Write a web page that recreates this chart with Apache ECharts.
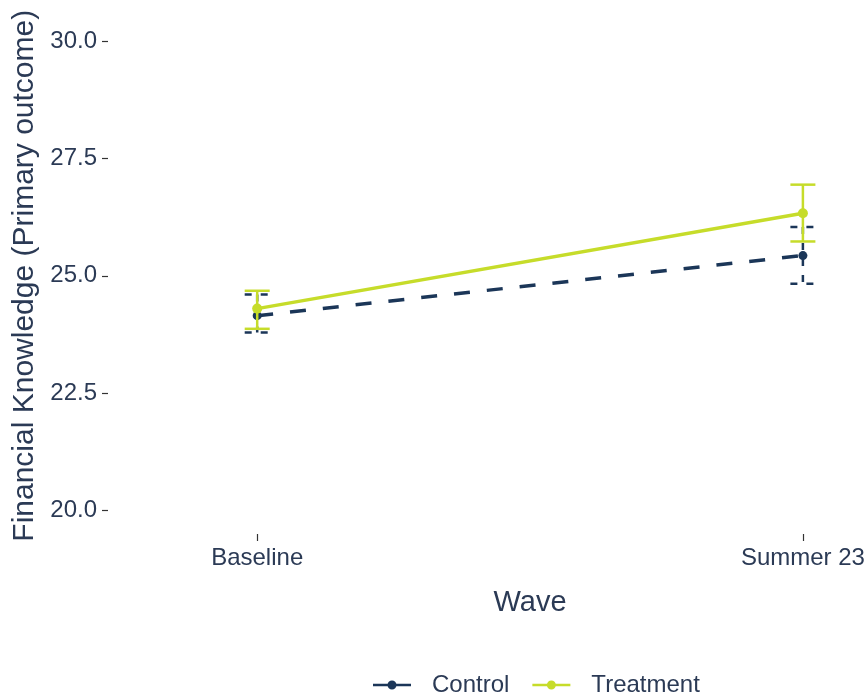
<!DOCTYPE html>
<html>
<head>
<meta charset="utf-8">
<script src="https://cdn.jsdelivr.net/npm/echarts@6/dist/echarts.min.js"></script>
<style>
  html, body { margin: 0; padding: 0; background: #ffffff; }
  #chart { width: 868px; height: 698px; }
</style>
</head>
<body>
<div id="chart"></div>
<script>
// Survey waves on the x axis
const waves = ['Baseline', 'Summer 23'];

// Group means with 95% confidence limits
const controlMean = [24.15, 25.43];
const controlLow = [23.79, 24.83];
const controlHigh = [24.60, 26.04];

const treatmentMean = [24.30, 26.33];
const treatmentLow = [23.87, 25.73];
const treatmentHigh = [24.68, 26.94];

const yTicks = [20.0, 22.5, 25.0, 27.5, 30.0];

const CONTROL_COLOR = '#1b3658';
const TREATMENT_COLOR = '#c6dc2a';
const TEXT_COLOR = '#2b3a55';
const TICK_COLOR = '#333333';
const FONT = '"Liberation Sans", Arial, sans-serif';

const waveIdx = waves.map((_, i) => i);

function pairs(values) {
  return values.map((v, i) => [i, v]);
}

function errorData(low, high) {
  return low.map((l, i) => [i, l, high[i]]);
}

// Whisker-style confidence interval bars
function errorSeries(name, low, high, color, dashed, z) {
  return {
    type: 'custom',
    name: name,
    z: z,
    silent: true,
    color: color,
    itemStyle: { color: color },
    data: errorData(low, high),
    encode: { x: 0, y: [1, 2] },
    renderItem: function (params, api) {
      const x = api.value(0);
      const lo = api.coord([x, api.value(1)]);
      const hi = api.coord([x, api.value(2)]);
      const half = 12.5;
      const style = {
        stroke: color,
        lineWidth: 2.5,
        lineDash: dashed ? [7, 9] : null,
        fill: null
      };
      return {
        type: 'group',
        children: [
          { type: 'line', shape: { x1: hi[0], y1: hi[1], x2: lo[0], y2: lo[1] }, style: style },
          { type: 'line', shape: { x1: hi[0] - half, y1: hi[1], x2: hi[0] + half, y2: hi[1] }, style: style },
          { type: 'line', shape: { x1: lo[0] - half, y1: lo[1], x2: lo[0] + half, y2: lo[1] }, style: style }
        ]
      };
    }
  };
}

// Legend key: short line with a solid dot in the middle
const KEY_ICON = 'path://M0,3.25h38v2.5h-38z M14.5,4.5a4.5,4.5 0 1,1 9,0a4.5,4.5 0 1,1 -9,0z';

const chart = echarts.init(document.getElementById('chart'), null, { renderer: 'canvas' });

chart.setOption({
  backgroundColor: '#ffffff',
  animation: false,
  textStyle: { fontFamily: FONT },
  grid: { left: 108, right: 0, top: 17.5, bottom: 164, containLabel: false },
  xAxis: {
    type: 'value',
    min: -0.2734,
    max: 1.1193,
    name: 'Wave',
    nameLocation: 'middle',
    nameGap: 54,
    nameTextStyle: { fontSize: 29, color: TEXT_COLOR, fontFamily: FONT, padding: [0, 0, 0, 84] },
    splitLine: { show: false },
    axisLine: { show: false, onZero: false },
    axisTick: {
      show: true,
      customValues: waveIdx,
      length: 7,
      lineStyle: { color: TICK_COLOR, width: 1.2 }
    },
    axisLabel: {
      customValues: waveIdx,
      formatter: v => waves[Math.round(v)] || '',
      fontSize: 24,
      color: TEXT_COLOR,
      margin: 12,
      fontFamily: FONT
    }
  },
  yAxis: {
    type: 'value',
    min: 19.5,
    max: 30.5,
    name: 'Financial Knowledge (Primary outcome)',
    nameLocation: 'middle',
    nameGap: 63,
    nameRotate: 90,
    nameTextStyle: { fontSize: 30, color: TEXT_COLOR, fontFamily: FONT },
    splitLine: { show: false },
    axisLine: { show: false, onZero: false },
    axisTick: {
      show: true,
      customValues: yTicks,
      length: 6,
      lineStyle: { color: TICK_COLOR, width: 1.2 }
    },
    axisLabel: {
      customValues: yTicks,
      formatter: v => v.toFixed(1),
      fontSize: 24,
      color: TEXT_COLOR,
      margin: 11,
      fontFamily: FONT
    }
  },
  legend: {
    top: 673,
    left: 373,
    padding: 0,
    itemWidth: 38,
    itemHeight: 9,
    itemGap: 23,
    itemStyle: { borderWidth: 0 },
    formatter: name => '{t|' + name + '}',
    textStyle: {
      fontSize: 24,
      color: TEXT_COLOR,
      fontFamily: FONT,
      rich: { t: { fontSize: 24, color: TEXT_COLOR, fontFamily: FONT, padding: [0, 0, 0, 16] } }
    },
    data: [
      { name: 'Control', icon: KEY_ICON, itemStyle: { color: CONTROL_COLOR, borderWidth: 0 } },
      { name: 'Treatment', icon: KEY_ICON, itemStyle: { color: TREATMENT_COLOR, borderWidth: 0 } }
    ]
  },
  series: [
    errorSeries('Control', controlLow, controlHigh, CONTROL_COLOR, true, 2),
    {
      name: 'Control',
      type: 'line',
      z: 3,
      data: pairs(controlMean),
      color: CONTROL_COLOR,
      lineStyle: { color: CONTROL_COLOR, width: 3.5, type: [16, 17] },
      symbol: 'circle',
      symbolSize: 9,
      itemStyle: { color: CONTROL_COLOR }
    },
    errorSeries('Treatment', treatmentLow, treatmentHigh, TREATMENT_COLOR, false, 4),
    {
      name: 'Treatment',
      type: 'line',
      z: 5,
      data: pairs(treatmentMean),
      color: TREATMENT_COLOR,
      lineStyle: { color: TREATMENT_COLOR, width: 3.5 },
      symbol: 'circle',
      symbolSize: 10,
      itemStyle: { color: TREATMENT_COLOR }
    }
  ]
});
</script>
</body>
</html>
